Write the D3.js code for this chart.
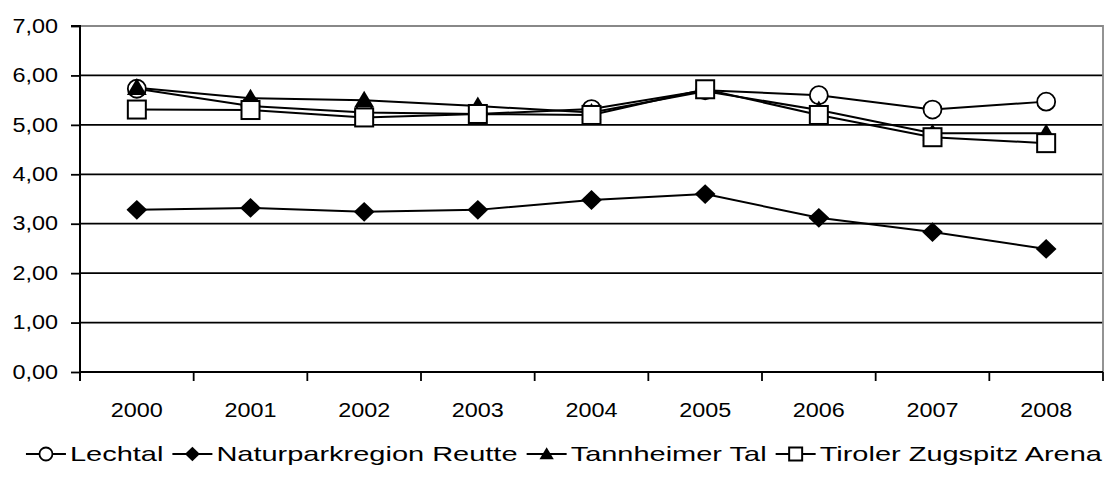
<!DOCTYPE html>
<html><head><meta charset="utf-8">
<script src="https://cdn.jsdelivr.net/npm/d3@7/dist/d3.min.js"></script>
<style>body{margin:0;background:#fff}svg{display:block}text{font-family:"Liberation Sans",Arial,sans-serif;fill:#000}</style>
</head><body><svg id="c" width="1117" height="480"></svg>
<script>
const years = ["2000","2001","2002","2003","2004","2005","2006","2007","2008"];
const lechtal = [5.73,5.38,5.25,5.22,5.32,5.70,5.60,5.31,5.47];
const naturpark = [3.28,3.32,3.24,3.28,3.48,3.60,3.12,2.83,2.49];
const tannheimer = [5.75,5.54,5.50,5.38,5.25,5.68,5.30,4.83,4.83];
const tiroler = [5.31,5.30,5.15,5.22,5.20,5.72,5.20,4.75,4.63];
const yTicks = [0,1,2,3,4,5,6,7];
const seriesNames = ["Lechtal","Naturparkregion Reutte","Tannheimer Tal","Tiroler Zugspitz Arena"];
const seriesValues = [lechtal, naturpark, tannheimer, tiroler];
const seriesShapes = ["circle","diamond","triangle","square"];

const FS = 19.5, SX = 1.2;
const svg = d3.select("#c");
const L=80, R=1103, T=26, B=372;
const x = d3.scaleBand().domain(years).range([L,R]);
const y = d3.scaleLinear().domain([0,7]).range([B,T]);
const fmt = v => d3.format(".2f")(v).replace(".",",");

svg.append("g").selectAll("line").data(yTicks.filter(d=>d>0&&d<7)).join("line")
  .attr("x1",L).attr("x2",R).attr("y1",d=>y(d)).attr("y2",d=>y(d))
  .attr("stroke","#000").attr("stroke-width",1.8);
svg.append("path").attr("d",`M${L},${y(7)}H${R}V${B}`).attr("fill","none").attr("stroke","#888").attr("stroke-width",1.8);

const ya = svg.append("g").attr("transform",`translate(${L},0)`)
  .call(d3.axisLeft(y).tickValues(yTicks).tickFormat(fmt).tickSize(9).tickPadding(14));
ya.select(".domain").attr("stroke","#000").attr("stroke-width",2).attr("d",`M-9,${y(7)}H0V${B+9}`);
ya.selectAll(".tick line").attr("stroke","#000").attr("stroke-width",1.8);
ya.selectAll("text").attr("font-size",FS).attr("font-family","Liberation Sans, Arial, sans-serif").attr("fill","#000")
  .attr("x",0).attr("transform",`translate(-22,0) scale(${SX},1)`);

const xg = svg.append("g").attr("transform",`translate(0,${B})`);
xg.append("line").attr("x1",L).attr("x2",R).attr("stroke","#000").attr("stroke-width",2);
const bounds = years.map(d=>x(d)).concat([R]);
xg.selectAll("line.tk").data(bounds).join("line").attr("class","tk")
  .attr("x1",d=>d).attr("x2",d=>d).attr("y1",0).attr("y2",9).attr("stroke","#000").attr("stroke-width",1.8);
xg.selectAll("text").data(years).join("text")
  .attr("transform",d=>`translate(${x(d)+x.bandwidth()/2},45) scale(${SX},1)`)
  .attr("text-anchor","middle").attr("font-size",FS).text(d=>d);

function marker(g, shape, s){
  if(shape==="circle") return g.append("circle").attr("r",s).attr("fill","#fff").attr("stroke","#000").attr("stroke-width",1.8);
  if(shape==="square") return g.append("rect").attr("x",-s).attr("y",-s).attr("width",2*s).attr("height",2*s).attr("fill","#fff").attr("stroke","#000").attr("stroke-width",2);
  if(shape==="diamond") return g.append("path").attr("d",`M0,${-s*1.1}L${s*1.15},0L0,${s*1.1}L${-s*1.15},0Z`).attr("fill","#000");
  if(shape==="triangle") return g.append("path").attr("d",`M0,${-s*1.05}L${s*1.1},${s*0.8}L${-s*1.1},${s*0.8}Z`).attr("fill","#000");
}

const cx = d=>x(d)+x.bandwidth()/2;
const line = d3.line().x((v,i)=>cx(years[i])).y(v=>y(v));
const order=[1,0,2,3];
order.forEach(si=>{
  svg.append("path").attr("d",line(seriesValues[si])).attr("fill","none").attr("stroke","#000").attr("stroke-width",2);
});
order.forEach(si=>{
  seriesValues[si].forEach((v,i)=>{
    const g = svg.append("g").attr("transform",`translate(${cx(years[i])},${y(v)})`);
    marker(g, seriesShapes[si], 9);
  });
});

// legend
const LFS = 21, LSX = 1.38;
const lg = svg.append("g");
const ly = 461;
const widths=[];
const tmp = svg.append("text").attr("font-size",LFS);
seriesNames.forEach(n=>{ tmp.text(n); widths.push(tmp.node().getComputedTextLength()*LSX); });
tmp.remove();
const symW=40, gapT=4, gapI=9;
const total = widths.reduce((a,w)=>a+symW+gapT+w,0)+gapI*(widths.length-1);
let lx = 564 - total/2;
seriesNames.forEach((n,i)=>{
  const g = lg.append("g").attr("transform",`translate(${lx},${ly})`);
  g.append("line").attr("x1",0).attr("x2",symW).attr("y1",-7).attr("y2",-7).attr("stroke","#000").attr("stroke-width",2);
  const mg = g.append("g").attr("transform",`translate(${symW/2},-7)`);
  marker(mg, seriesShapes[i], 6.5);
  g.append("text").attr("transform",`translate(${symW+gapT},0) scale(${LSX},1)`).attr("font-size",LFS).text(n);
  lx += symW+gapT+widths[i]+gapI;
});
</script></body></html>
